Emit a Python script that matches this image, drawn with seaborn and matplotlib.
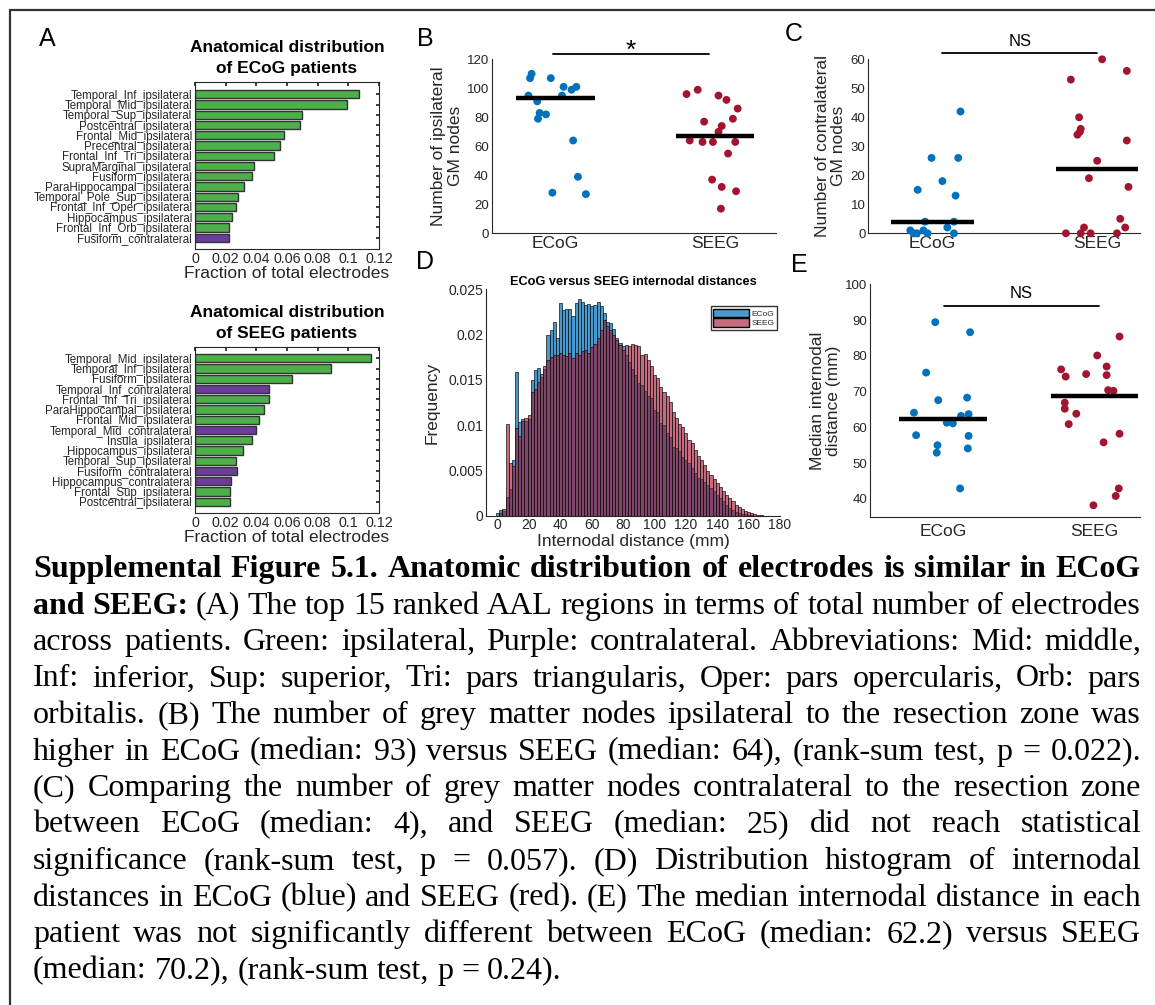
import numpy as np
import pandas as pd
import seaborn as sns
import matplotlib.pyplot as plt
from matplotlib.colors import to_rgba
from matplotlib.patches import Patch
from matplotlib.lines import Line2D

# ---------------- data ----------------
# (A) top-15 AAL regions, fraction of total electrodes
ecog_regions = ["Temporal_Inf_ipsilateral", "Temporal_Mid_ipsilateral", "Temporal_Sup_ipsilateral",
                "Postcentral_ipsilateral", "Frontal_Mid_ipsilateral", "Precentral_ipsilateral",
                "Frontal_Inf_Tri_ipsilateral", "SupraMarginal_ipsilateral", "Fusiform_ipsilateral",
                "ParaHippocampal_ipsilateral", "Temporal_Pole_Sup_ipsilateral", "Frontal_Inf_Oper_ipsilateral",
                "Hippocampus_ipsilateral", "Frontal_Inf_Orb_ipsilateral", "Fusiform_contralateral"]
ecog_fraction = [0.107, 0.099, 0.0696, 0.0685, 0.058, 0.0554, 0.0513, 0.0383, 0.0372,
                 0.0317, 0.0283, 0.0267, 0.0241, 0.022, 0.022]

seeg_regions = ["Temporal_Mid_ipsilateral", "Temporal_Inf_ipsilateral", "Fusiform_ipsilateral",
                "Temporal_Inf_contralateral", "Frontal_Inf_Tri_ipsilateral", "ParaHippocampal_ipsilateral",
                "Frontal_Mid_ipsilateral", "Temporal_Mid_contralateral", "Insula_ipsilateral",
                "Hippocampus_ipsilateral", "Temporal_Sup_ipsilateral", "Fusiform_contralateral",
                "Hippocampus_contralateral", "Frontal_Sup_ipsilateral", "Postcentral_ipsilateral"]
seeg_fraction = [0.1148, 0.0887, 0.0633, 0.048, 0.048, 0.0452, 0.042, 0.040, 0.0372,
                 0.0315, 0.027, 0.0272, 0.0237, 0.0226, 0.0226]

groups = ["ECoG", "SEEG"]

# (B) ipsilateral GM nodes per patient (value, horizontal jitter)
ipsi_ecog = [110, 107, 107, 101, 101, 99, 95, 95, 91, 83, 82, 79, 64, 39, 28, 27]
ipsi_ecog_dx = [-0.15, -0.16, -0.03, 0.05, 0.13, 0.10, 0.04, -0.17, -0.115, -0.10, -0.06, -0.11,
                0.11, 0.14, -0.02, 0.19]
ipsi_seeg = [96, 99, 95, 92, 86, 77, 74, 79, 70, 64, 63, 63, 63, 55, 37, 32, 29, 17]
ipsi_seeg_dx = [-0.18, -0.11, 0.02, 0.07, 0.14, -0.07, 0.04, 0.11, 0.02, -0.16, -0.08, -0.015,
                0.125, 0.08, -0.02, 0.04, 0.13, 0.035]
ipsi_median = [93, 67]

# (C) contralateral GM nodes per patient
contra_ecog = [42, 26, 26, 18, 15, 13, 4, 4, 2, 1, 0, 1, 0, 0, 0]
contra_ecog_dx = [0.17, -0.006, 0.156, 0.06, -0.09, 0.14, -0.045, 0.13, 0.09, -0.135, -0.095,
                  -0.055, -0.03, 0.13, -0.115]
contra_seeg = [60, 56, 53, 40, 36, 35, 34, 32, 25, 19, 16, 5, 2, 2, 0, 0, 0, 0]
contra_seeg_dx = [0.03, 0.18, -0.16, -0.11, -0.10, -0.105, -0.12, 0.18, 0.0, -0.05, 0.19, 0.14,
                  0.17, -0.08, -0.19, -0.10, -0.04, 0.12]
contra_median = [4, 22]

# (E) median internodal distance per patient (mm)
dist_ecog = [89.4, 86.6, 75.3, 67.6, 68.3, 64.1, 63.7, 63.2, 61.3, 61.1, 57.8, 57.6, 55.0, 52.9,
             54.1, 42.9]
dist_ecog_dx = [-0.05, 0.18, -0.11, -0.03, 0.16, -0.19, 0.17, 0.12, 0.026, 0.066, -0.176, 0.17,
                -0.035, -0.04, 0.165, 0.114]
dist_seeg = [85.4, 80.1, 76.2, 77.0, 74.2, 74.9, 74.6, 70.4, 70.2, 66.9, 65.2, 63.8, 60.9, 58.2,
             55.8, 42.9, 40.8, 38.2]
dist_seeg_dx = [0.165, 0.018, -0.22, 0.08, -0.19, -0.055, 0.08, 0.09, 0.125, -0.196, -0.196, -0.12,
                -0.17, 0.165, 0.06, 0.16, 0.14, -0.007]
dist_median = [62.2, 68.7]

# (D) internodal distance histogram, 2 mm bins centred on 0, 2, ..., 170
hist_centers = list(range(0, 171, 2))
hist_ecog = [0.0003, 0.0006, 0.0005, 0.0021, 0.0030, 0.0061, 0.0159, 0.0104, 0.0107, 0.0105,
             0.0107, 0.0150, 0.0161, 0.0163, 0.0153, 0.0162, 0.0200, 0.0205, 0.0214, 0.0196,
             0.0235, 0.0227, 0.0228, 0.0228, 0.0221, 0.0235, 0.0239, 0.0236, 0.0233, 0.0234,
             0.0232, 0.0233, 0.0236, 0.0232, 0.0224, 0.0214, 0.0213, 0.0206, 0.0196, 0.0191,
             0.0187, 0.0178, 0.0170, 0.0162, 0.0155, 0.0147, 0.0144, 0.0138, 0.0132, 0.0130,
             0.0117, 0.0115, 0.0102, 0.0100, 0.0091, 0.0087, 0.0076, 0.0075, 0.0071, 0.0065,
             0.0062, 0.0058, 0.0053, 0.0047, 0.0042, 0.0040, 0.0037, 0.0034, 0.0031, 0.0027,
             0.0023, 0.0019, 0.0016, 0.0012, 0.0009, 0.0006, 0.0004, 0.0003, 0.0002, 0.0002,
             0.0001, 0.0001, 0.0, 0.0, 0.0, 0.0]
hist_seeg = [0.0, 0.0003, 0.0007, 0.0101, 0.0058, 0.0055, 0.0097, 0.0088, 0.0105, 0.0108,
             0.0111, 0.0137, 0.0140, 0.0148, 0.0156, 0.0165, 0.0172, 0.0175, 0.0177, 0.0178,
             0.0180, 0.0178, 0.0176, 0.0180, 0.0174, 0.0180, 0.0178, 0.0182, 0.0183, 0.0180,
             0.0186, 0.0190, 0.0196, 0.0205, 0.0216, 0.0210, 0.0205, 0.0200, 0.0194, 0.0188,
             0.0183, 0.0189, 0.0187, 0.0190, 0.0189, 0.0187, 0.0177, 0.0179, 0.0172, 0.0165,
             0.0155, 0.0152, 0.0142, 0.0137, 0.0132, 0.0126, 0.0115, 0.0108, 0.0101, 0.0098,
             0.0091, 0.0084, 0.0080, 0.0073, 0.0066, 0.0062, 0.0056, 0.0049, 0.0045, 0.0041,
             0.0036, 0.0032, 0.0027, 0.0023, 0.0020, 0.0016, 0.0012, 0.0010, 0.0007, 0.0005,
             0.0004, 0.0003, 0.0002, 0.0001, 0.0001, 0.0]

caption_lines = [
    "Supplemental Figure 5.1. Anatomic distribution of electrodes is similar in ECoG",
    "and SEEG: (A) The top 15 ranked AAL regions in terms of total number of electrodes",
    "across patients. Green: ipsilateral, Purple: contralateral. Abbreviations: Mid: middle,",
    "Inf: inferior, Sup: superior, Tri: pars triangularis, Oper: pars opercularis, Orb: pars",
    "orbitalis. (B) The number of grey matter nodes ipsilateral to the resection zone was",
    "higher in ECoG (median: 93) versus SEEG (median: 64), (rank-sum test, p = 0.022).",
    "(C) Comparing the number of grey matter nodes contralateral to the resection zone",
    "between ECoG (median: 4), and SEEG (median: 25) did not reach statistical",
    "significance (rank-sum test, p = 0.057). (D) Distribution histogram of internodal",
    "distances in ECoG (blue) and SEEG (red). (E) The median internodal distance in each",
    "patient was not significantly different between ECoG (median: 62.2) versus SEEG",
    "(median: 70.2), (rank-sum test, p = 0.24).",
]
caption_bold_words = [11, 2, 0, 0, 0, 0, 0, 0, 0, 0, 0, 0]

# ---------------- style ----------------
GREEN = "#4daf4a"
PURPLE = "#6a3d9a"
BLUE = "#0072bd"
RED = "#a2142f"
INK = "#262626"
SANS = ["Liberation Sans", "DejaVu Sans"]
SERIF = ["Liberation Serif", "DejaVu Serif"]

sns.set_theme(style="white")
plt.rcParams["font.family"] = SANS
plt.rcParams.update({"axes.edgecolor": INK, "axes.labelcolor": INK, "xtick.color": INK,
                     "ytick.color": INK, "text.color": INK, "axes.linewidth": 0.8,
                     "xtick.direction": "in", "ytick.direction": "in"})

W, H = 1155, 1005
fig = plt.figure(figsize=(W / 100, H / 100), dpi=100)


def add_ax(x0, y0, x1, y1):
    # axes from a pixel box (top-left origin)
    return fig.add_axes([x0 / W, 1 - y1 / H, (x1 - x0) / W, (y1 - y0) / H])


def region_panel(ax, regions, fractions, title, top_pad):
    df = pd.DataFrame({"region": regions, "fraction": fractions})
    df["side"] = np.where(df["region"].str.endswith("contralateral"), "contra", "ipsi")
    sns.barplot(data=df, x="fraction", y="region", hue="side", dodge=False, width=0.8,
                palette={"ipsi": GREEN, "contra": PURPLE}, saturation=1, legend=False,
                edgecolor="#333333", linewidth=1.0, ax=ax)
    ax.set_xlim(0, 0.12)
    ax.set_ylim(len(regions) - 1 + 1.13, -top_pad)
    xt = np.arange(0, 0.1201, 0.02)
    ax.set_xticks(xt)
    ax.set_xticklabels([f"{v:g}" for v in xt], fontsize=10.3)
    ax.tick_params(axis="y", labelsize=8.3, pad=2, length=2.5, right=True)
    ax.tick_params(axis="x", length=3, pad=2, top=True)
    ax.set_ylabel("")
    ax.set_xlabel("Fraction of total electrodes", fontsize=12.5, labelpad=0)
    ax.set_title(title, fontsize=12.5, fontweight="bold", pad=6, color="black", linespacing=1.5)
    for s in ax.spines.values():
        s.set_visible(True)


def strip_panel(ax, ecog, ecog_dx, seeg, seeg_dx, medians, half_width, xlim, ylim, yticks,
                ylabel, bar_x, bar_y, mark, mark_y, mark_size, mid_tick=False):
    df = pd.DataFrame({"group": ["ECoG"] * len(ecog) + ["SEEG"] * len(seeg),
                       "value": ecog + seeg, "dx": ecog_dx + seeg_dx})
    df["x"] = df["group"].map({g: i + 1 for i, g in enumerate(groups)}) + df["dx"]
    sns.scatterplot(data=df, x="x", y="value", hue="group", palette={"ECoG": BLUE, "SEEG": RED},
                    s=32, linewidth=0, legend=False, clip_on=False, ax=ax, zorder=3)
    for i, m in enumerate(medians):
        ax.hlines(m, i + 1 - half_width, i + 1 + half_width, color="black", lw=3.2, zorder=4)
    ax.plot(bar_x, [bar_y, bar_y], color="black", lw=1.3, clip_on=False)
    ax.text(np.mean(bar_x), mark_y, mark, ha="center", va="center", fontsize=mark_size,
            color="black")
    ax.set_xlim(*xlim)
    ax.set_ylim(*ylim)
    ax.set_yticks(yticks)
    ax.set_yticklabels([str(v) for v in yticks], fontsize=9.5)
    if mid_tick:
        # category labels without marks, a single mark between the groups
        ax.set_xticks([1.5])
        ax.set_xticklabels([""])
        ax.set_xticks([1, 2], minor=True)
        ax.set_xticklabels(groups, minor=True, fontsize=12.5)
        ax.tick_params(axis="x", which="minor", length=0, pad=5.5)
    else:
        ax.set_xticks([1, 2])
        ax.set_xticklabels(groups, fontsize=12.5)
    ax.tick_params(axis="both", which="major", length=3.5, pad=2)
    ax.set_xlabel("")
    ax.set_ylabel(ylabel, fontsize=12.5, labelpad=3, linespacing=1.1)
    sns.despine(ax=ax)


# ---- A ----
axA1 = add_ax(195, 81.7, 379, 249.3)
region_panel(axA1, ecog_regions, ecog_fraction, "Anatomical distribution\nof ECoG patients", 1.23)
axA2 = add_ax(195, 346.7, 379, 513.3)
region_panel(axA2, seeg_regions, seeg_fraction, "Anatomical distribution\nof SEEG patients", 1.13)

# ---- B ----
axB = add_ax(491.7, 59.3, 776, 233.3)
strip_panel(axB, ipsi_ecog, ipsi_ecog_dx, ipsi_seeg, ipsi_seeg_dx, ipsi_median, 0.245,
            (0.6, 2.38), (0, 120), list(range(0, 121, 20)), "Number of ipsilateral\nGM nodes",
            [0.985, 1.96], 123.4, "*", 125.5, 19)

# ---- C ----
axC = add_ax(868.3, 59.3, 1140, 233.3)
strip_panel(axC, contra_ecog, contra_ecog_dx, contra_seeg, contra_seeg_dx, contra_median, 0.25,
            (0.61, 2.26), (0, 60), list(range(0, 61, 10)), "Number of contralateral\nGM nodes",
            [1.06, 2.0], 62, "NS", 66.0, 12)

# ---- E ----
axE = add_ax(870, 284.3, 1140, 516.7)
strip_panel(axE, dist_ecog, dist_ecog_dx, dist_seeg, dist_seeg_dx, dist_median, 0.29,
            (0.52, 2.30), (35, 100), list(range(40, 101, 10)), "Median internodal\ndistance (mm)",
            [1.007, 2.03], 94, "NS", 97.4, 12, mid_tick=True)

# ---- D ----
axD = add_ax(486, 289.3, 780, 515.7)
hist_edges = [c - 1 for c in hist_centers] + [hist_centers[-1] + 1]
hist_df = pd.DataFrame({"dist": hist_centers, "ECoG": hist_ecog, "SEEG": hist_seeg})
sns.histplot(data=hist_df, x="dist", weights="ECoG", bins=hist_edges, color=BLUE,
             edgecolor="black", linewidth=0.5, ax=axD)
n_ecog = len(axD.patches)
sns.histplot(data=hist_df, x="dist", weights="SEEG", bins=hist_edges, color=RED,
             edgecolor="black", linewidth=0.5, ax=axD)
for i, p in enumerate(axD.patches):
    p.set_alpha(None)
    p.set_facecolor(to_rgba(BLUE, 0.72) if i < n_ecog else to_rgba(RED, 0.62))
    p.set_edgecolor((0.08, 0.08, 0.08, 1))
axD.set_xlim(-7.5, 180)
axD.set_ylim(0, 0.025)
yt = [0, 0.005, 0.01, 0.015, 0.02, 0.025]
axD.set_yticks(yt)
axD.set_yticklabels([f"{v:g}" for v in yt], fontsize=10)
xt = list(range(0, 181, 20))
axD.set_xticks(xt)
axD.set_xticklabels([str(v) for v in xt], fontsize=10)
axD.tick_params(axis="both", length=3, pad=2)
axD.set_xlabel("Internodal distance (mm)", fontsize=12.5, labelpad=1)
axD.set_ylabel("Frequency", fontsize=12.5, labelpad=6)
axD.set_title("ECoG versus SEEG internodal distances", fontsize=9.2, fontweight="bold",
              color="black", pad=3)
sns.despine(ax=axD)
axD.legend(handles=[Patch(facecolor=to_rgba(BLUE, 0.72), edgecolor="black", label="ECoG"),
                    Patch(facecolor=to_rgba(RED, 0.62), edgecolor="black", label="SEEG")],
           loc="upper right", bbox_to_anchor=(0.99, 0.925), fontsize=6, frameon=True,
           fancybox=False, edgecolor="black", handlelength=4.3, handleheight=1.2,
           borderpad=0.3, labelspacing=0.05, handletextpad=0.3, borderaxespad=0)

# ---- panel letters ----
for letter, (px, py) in {"A": (47, 39), "B": (425, 39), "C": (794, 34),
                         "D": (425, 262), "E": (799, 265)}.items():
    fig.text(px / W, 1 - py / H, letter, fontsize=18, ha="center", va="center", color="black")

# ---- frame lines ----
fig.add_artist(Line2D([10 / W, 10 / W], [0, 1 - 10 / H], transform=fig.transFigure,
                      color="#333333", lw=1.6))
fig.add_artist(Line2D([10 / W, 1], [1 - 10 / H, 1 - 10 / H], transform=fig.transFigure,
                      color="#333333", lw=1.6))

# ---- caption (justified) ----
CAP_SIZE = 23
renderer = fig.canvas.get_renderer()
x_left, x_right = 33, 1141
probe = fig.text(0, 0, "a a", fontsize=CAP_SIZE, family=SERIF)
probe2 = fig.text(0, 0, "aa", fontsize=CAP_SIZE, family=SERIF)
space_w = probe.get_window_extent(renderer).width - probe2.get_window_extent(renderer).width
probe.remove()
probe2.remove()
for i, (line, nbold) in enumerate(zip(caption_lines, caption_bold_words)):
    words = line.split(" ")
    texts = [fig.text(0, 0, w, fontsize=CAP_SIZE, family=SERIF, color="black",
                      weight="bold" if k < nbold else "normal", va="baseline")
             for k, w in enumerate(words)]
    widths = [t.get_window_extent(renderer).width for t in texts]
    if i < len(caption_lines) - 1:
        gap = max((x_right - x_left - sum(widths)) / (len(words) - 1), space_w * 0.5)
    else:
        gap = space_w
    x = x_left
    y = 1 - (577 + i * 36.5) / H
    for t, w in zip(texts, widths):
        t.set_position((x / W, y))
        x += w + gap

fig.savefig("out.png", dpi=100)
